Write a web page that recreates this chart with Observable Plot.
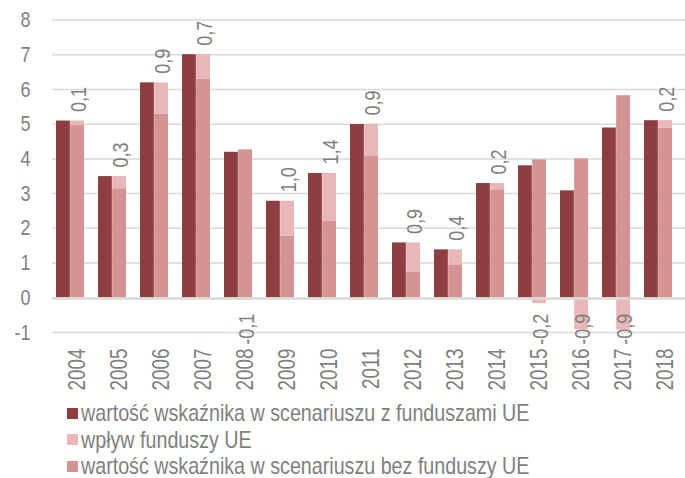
<!DOCTYPE html>
<html>
<head>
<meta charset="utf-8">
<script src="https://cdn.jsdelivr.net/npm/d3@7"></script>
<script src="https://cdn.jsdelivr.net/npm/@observablehq/plot@0.6"></script>
<style>
  html, body { margin: 0; padding: 0; background: #fff; }
  body { width: 685px; height: 478px; overflow: hidden; font-family: "Liberation Sans", Arial, sans-serif; }
  #legend { margin-left: 67px; padding-top: 5px; color: #7f7f7f; font-size: 24px; }
  #legend .row { display: flex; align-items: center; height: 26.5px; white-space: nowrap; }
  #legend .sw { width: 11px; height: 11px; margin-right: 3px; flex: none; }
  #legend .lab { display: inline-block; transform: scaleX(0.82); transform-origin: 0 50%; }
</style>
</head>
<body>
<div id="chart"></div>
<div id="legend"></div>
<script>
const years = ["2004","2005","2006","2007","2008","2009","2010","2011","2012","2013","2014","2015","2016","2017","2018"];
const withFunds    = [5.09, 3.49, 6.19, 7.00, 4.19, 2.78, 3.58, 4.99, 1.58, 1.38, 3.29, 3.80, 3.08, 4.89, 5.10];
const withoutFunds = [4.96, 3.14, 5.28, 6.29, 4.26, 1.77, 2.20, 4.09, 0.73, 0.95, 3.11, 3.97, 4.00, 5.82, 4.88];
const impact       = [0.13, 0.33, 0.91, 0.71, -0.07, 1.01, 1.38, 0.90, 0.87, 0.43, 0.18, -0.17, -0.92, -0.93, 0.22];
const yTicks = [-1, 0, 1, 2, 3, 4, 5, 6, 7, 8];
const seriesNames = [
  "wartość wskaźnika w scenariuszu z funduszami UE",
  "wpływ funduszy UE",
  "wartość wskaźnika w scenariuszu bez funduszy UE"
];
const colors = ["#8e3d40", "#e8b8b8", "#d49494"];

const W = 685, H = 395, ML = 52, MR = 10, MT = 19.5, MB = 63;
const font = '"Liberation Sans", Arial, sans-serif';
const textColor = "#7f7f7f";
const narrow = 0.82;

const rows = years.map((year, i) => ({year, with: withFunds[i], without: withoutFunds[i], impact: impact[i]}));
const bw = d3.scaleBand().domain(years).range([ML, W - MR]).paddingInner(1/3).paddingOuter(0).bandwidth();
const fmt = d => d.impact.toFixed(1).replace(".", ",");

const chart = Plot.plot({
  width: W, height: H,
  marginLeft: ML, marginRight: MR, marginTop: MT, marginBottom: MB,
  style: {fontFamily: font, fontSize: "22px", color: textColor, background: "white"},
  x: {domain: years, paddingInner: 1/3, paddingOuter: 0, label: null},
  y: {domain: [-1, 8], label: null},
  marks: [
    Plot.ruleY(yTicks.filter(t => t !== 0), {stroke: "#d9d9d9", strokeWidth: 1.5, insetRight: -MR}),
    Plot.barY(rows, {x: "year", y: "with", fill: colors[0], insetRight: bw / 2}),
    Plot.barY(rows, {x: "year", y: "without", fill: colors[2], insetLeft: bw / 2}),
    Plot.barY(rows, {
      x: "year",
      y1: d => d.impact > 0 ? d.without : 0,
      y2: d => d.impact > 0 ? d.with : d.impact,
      fill: colors[1], insetLeft: bw / 2
    }),
    Plot.ruleY([0], {stroke: "#d9d9d9", strokeWidth: 2.5, dy: 0.75, insetRight: -MR}),
    Plot.text(rows.filter(d => d.impact > 0), {
      x: "year", y: "with", text: fmt, rotate: -90, textAnchor: "start",
      dx: bw / 4 + 1, dy: -9, fill: textColor, fontSize: 22
    }),
    Plot.text(rows.filter(d => d.impact < 0), {
      x: "year", y: () => 0, text: fmt, rotate: -90, textAnchor: "end",
      dx: bw / 4 + 1, dy: 16, fill: textColor, fontSize: 22
    }),
    Plot.axisY({ticks: yTicks, tickSize: 0, tickPadding: 22, tickFormat: d => String(d), fontSize: 22, label: null}),
    Plot.axisX({tickSize: 0, tickRotate: -90, tickPadding: 16, dx: 7, fontSize: 23, label: null})
  ]
});
// emulate a narrow typeface: condense each text along its own reading direction
chart.querySelectorAll("text").forEach(t => {
  const tr = t.getAttribute("transform") || "";
  t.setAttribute("transform", `${tr} scale(${narrow},1)`);
});
document.getElementById("chart").appendChild(chart);

const legend = document.getElementById("legend");
[0, 1, 2].forEach(i => {
  const row = document.createElement("div");
  row.className = "row";
  const sw = document.createElement("span");
  sw.className = "sw";
  sw.style.background = colors[i];
  const label = document.createElement("span");
  label.className = "lab";
  label.textContent = seriesNames[i];
  row.appendChild(sw);
  row.appendChild(label);
  legend.appendChild(row);
});
</script>
</body>
</html>
